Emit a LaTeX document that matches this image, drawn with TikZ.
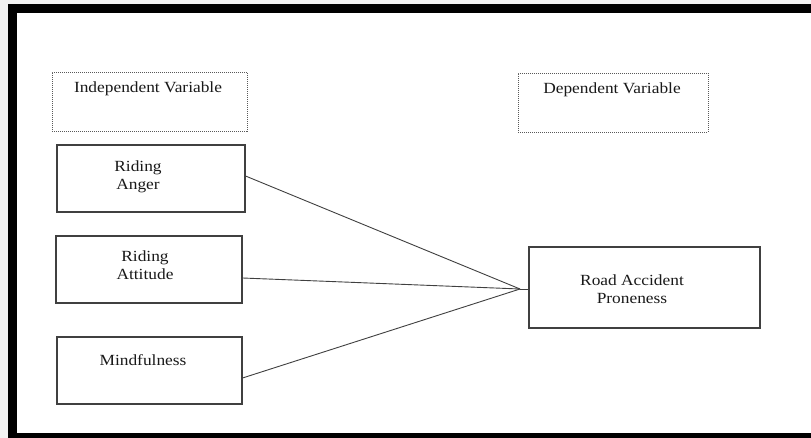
\documentclass[tikz,border=0pt]{standalone}
\usepackage{fontspec}
\setmainfont[FakeStretch=1.12]{Liberation Serif}
\begin{document}
\begin{tikzpicture}[x=1pt,y=-1pt,
  box/.style={draw=black!75,line width=1.1pt,inner sep=0pt,fill=white},
  dotbox/.style={draw=black!65,line width=0.8pt,dash pattern=on 1pt off 1pt,inner sep=0pt},
  lbl/.style={inner sep=0pt,anchor=base,font=\fontsize{15.5}{17.5}\selectfont,text=black!90,align=center},
  link/.style={draw=black!75,line width=0.9pt}]
\useasboundingbox (0,0) rectangle (811,438);
\clip (0,0) rectangle (811,438);
\fill[black!5] (0,0) rectangle (811,438);
\fill[white] (12.5,9) rectangle (830,437.5);
\draw[line width=9pt,black] (12.5,9) rectangle (830,437.5);
% headers
\node[dotbox,minimum width=195pt,minimum height=59pt] (ivbox) at (149.5,101.5) {};
\node[lbl] (ivt) at (148,93) {Independent Variable};
\node[dotbox,minimum width=190pt,minimum height=59pt] (dvbox) at (613,102.5) {};
\node[lbl] (dvt) at (612,94) {Dependent Variable};
% boxes
\node[box,minimum width=188pt,minimum height=67pt] (anger) at (151,178.5) {};
\node[lbl] (angert) at (138,189.5) {Riding\\Anger};
\node[box,minimum width=186pt,minimum height=67pt] (att) at (149,269.5) {};
\node[lbl] (attt) at (145,279.5) {Riding\\Attitude};
\node[box,minimum width=185pt,minimum height=67pt] (mind) at (149.5,370.5) {};
\node[lbl] (mindt) at (143,365) {Mindfulness};
\node[box,minimum width=231pt,minimum height=81pt] (rap) at (644.5,287.5) {};
\node[lbl] (rapt) at (632,303.5) {Road Accident\\Proneness};
% connectors
\coordinate (J) at (520,289);
\draw[link] ([yshift=2.5pt]anger.east) -- (J);
\draw[link] ([yshift=-8.5pt]att.east) -- (J);
\draw[link] ([yshift=-7.5pt]mind.east) -- (J);
\draw[link] (J) -- (rap.west |- J);
\end{tikzpicture}
\end{document}
